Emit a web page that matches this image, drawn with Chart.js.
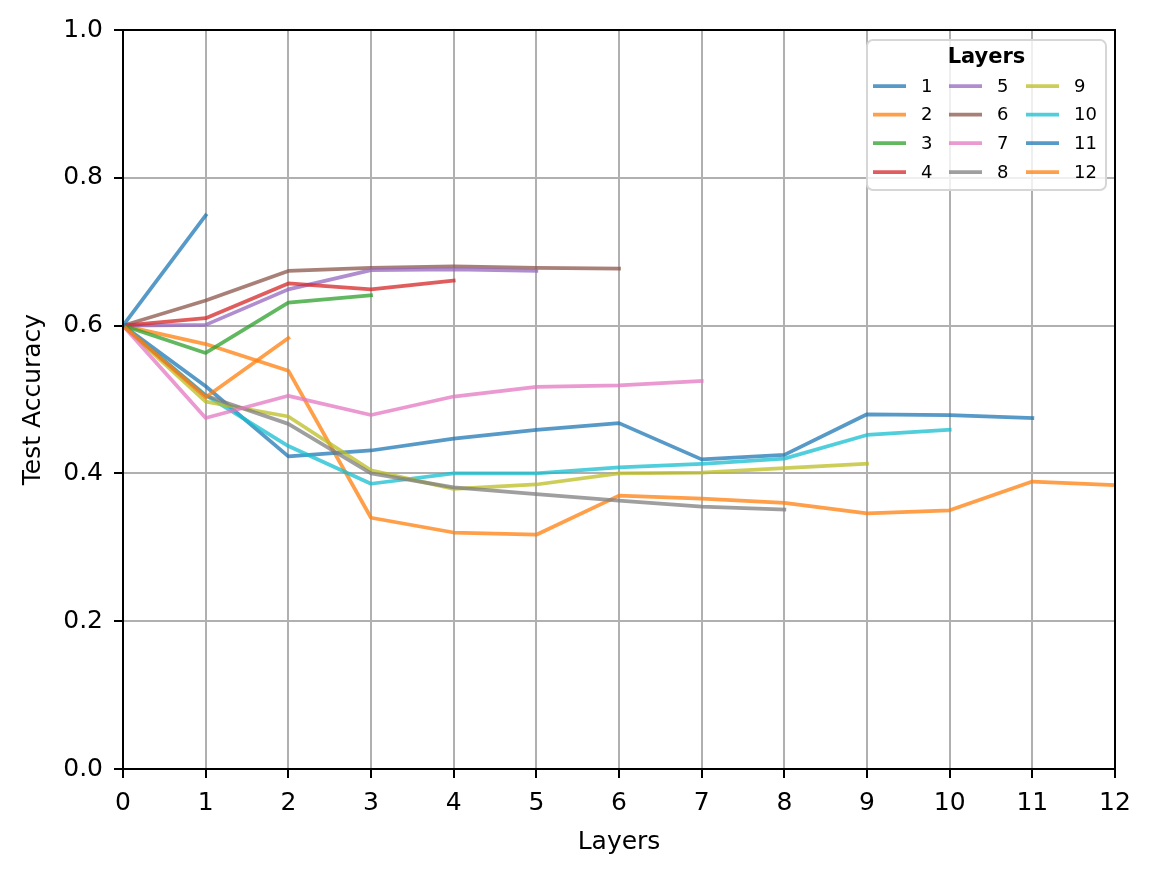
<!DOCTYPE html>
<html>
<head>
<meta charset="utf-8">
<script src="https://cdn.jsdelivr.net/npm/chart.js@4.4.1/dist/chart.umd.min.js"></script>
<style>
  body { margin: 0; background: #fff; }
  canvas { display: block; }
</style>
</head>
<body>
<canvas id="chartLayers" width="1152" height="876"></canvas>
<script>
// test accuracy per number of layers, one run per depth
var layers1 = [0.600, 0.749];
var layers2 = [0.600, 0.503, 0.583];
var layers3 = [0.600, 0.563, 0.631, 0.641];
var layers4 = [0.600, 0.610, 0.657, 0.649, 0.661];
var layers5 = [0.600, 0.601, 0.649, 0.675, 0.676, 0.674];
var layers6 = [0.600, 0.634, 0.674, 0.678, 0.680, 0.678, 0.677];
var layers7 = [0.600, 0.475, 0.505, 0.479, 0.504, 0.517, 0.519, 0.525];
var layers8 = [0.600, 0.505, 0.467, 0.400, 0.381, 0.372, 0.363, 0.355, 0.351];
var layers9 = [0.600, 0.497, 0.477, 0.404, 0.379, 0.385, 0.400, 0.401, 0.407, 0.413];
var layers10 = [0.600, 0.506, 0.437, 0.386, 0.400, 0.400, 0.408, 0.413, 0.420, 0.452, 0.459];
var layers11 = [0.600, 0.518, 0.423, 0.431, 0.447, 0.459, 0.468, 0.419, 0.425, 0.480, 0.479, 0.475];
var layers12 = [0.600, 0.575, 0.539, 0.340, 0.320, 0.317, 0.370, 0.366, 0.360, 0.346, 0.350, 0.389, 0.384];

var seriesLabels = ['1', '2', '3', '4', '5', '6', '7', '8', '9', '10', '11', '12'];
var allSeries = [layers1, layers2, layers3, layers4, layers5, layers6,
                 layers7, layers8, layers9, layers10, layers11, layers12];

// matplotlib tab10 cycle, alpha 0.75
var tab10 = [
  'rgba(31,119,180,0.75)', 'rgba(255,127,14,0.75)', 'rgba(44,160,44,0.75)',
  'rgba(214,39,40,0.75)', 'rgba(148,103,189,0.75)', 'rgba(140,86,75,0.75)',
  'rgba(227,119,194,0.75)', 'rgba(127,127,127,0.75)', 'rgba(188,189,34,0.75)',
  'rgba(23,190,207,0.75)'
];

var FONT = "'DejaVu Sans', sans-serif";

var datasets = [];
for (var i = 0; i < allSeries.length; i++) {
  datasets.push({
    label: seriesLabels[i],
    data: allSeries[i].map(function (v, k) { return { x: k, y: v }; }),
    borderColor: tab10[i % 10],
    backgroundColor: tab10[i % 10],
    borderWidth: 3.75,
    pointRadius: 0,
    pointHoverRadius: 0,
    tension: 0,
    fill: false,
    borderJoinStyle: 'round',
    borderCapStyle: 'square'
  });
}

// spines on top of the lines
var framePlugin = {
  id: 'frame',
  afterDatasetsDraw: function (chart) {
    var a = chart.chartArea, c = chart.ctx;
    c.save();
    c.strokeStyle = '#000';
    c.lineWidth = 2;
    c.strokeRect(a.left, a.top, a.right - a.left, a.bottom - a.top);
    c.restore();
  }
};

// matplotlib style legend: 3 columns, filled column by column
var legendPlugin = {
  id: 'mplLegend',
  afterDraw: function (chart) {
    var c = chart.ctx;
    var box = { x: 867, y: 40, w: 239, h: 150, r: 6 };
    c.save();
    c.beginPath();
    c.roundRect(box.x, box.y, box.w, box.h, box.r);
    c.fillStyle = 'rgba(255,255,255,0.8)';
    c.fill();
    c.strokeStyle = '#d6d6d6';
    c.lineWidth = 2;
    c.stroke();

    c.fillStyle = '#000';
    c.textAlign = 'center';
    c.textBaseline = 'middle';
    c.font = 'bold 21px ' + FONT;
    c.fillText('Layers', 986.5, 58);

    var colX = [873, 949, 1026];
    var rowY = [86, 114.5, 143, 172];
    c.font = '18px ' + FONT;
    c.textAlign = 'left';
    chart.data.datasets.forEach(function (ds, idx) {
      var col = Math.floor(idx / 4), row = idx % 4;
      var x = colX[col], y = rowY[row];
      c.strokeStyle = ds.borderColor;
      c.lineWidth = 3.75;
      c.lineCap = 'butt';
      c.beginPath();
      c.moveTo(x, y);
      c.lineTo(x + 33, y);
      c.stroke();
      c.fillStyle = '#000';
      c.fillText(ds.label, x + 48, y + 1);
    });
    c.restore();
  }
};

var ctx = document.getElementById('chartLayers');

var chartLayers = new Chart(ctx, {
  type: 'line',
  data: { datasets: datasets },
  plugins: [framePlugin, legendPlugin],
  options: {
    responsive: false,
    animation: false,
    devicePixelRatio: 1,
    layout: { padding: { left: 0, right: 37, top: 30, bottom: 0 } },
    plugins: {
      legend: { display: false },
      tooltip: { enabled: false }
    },
    scales: {
      x: {
        type: 'linear',
        min: 0,
        max: 12,
        afterFit: function (scale) { scale.height = 107; },
        ticks: {
          stepSize: 1,
          color: '#000',
          padding: 10,
          font: { family: FONT, size: 25 }
        },
        grid: {
          color: '#b0b0b0',
          lineWidth: 2,
          tickColor: '#000',
          tickLength: 9,
          tickWidth: 2
        },
        border: { display: true, color: '#000', width: 2 },
        title: {
          display: true,
          text: 'Layers',
          color: '#000',
          padding: { top: 0, bottom: 19 },
          font: { family: FONT, size: 25 }
        }
      },
      y: {
        min: 0,
        max: 1,
        afterFit: function (scale) { scale.width = 123; },
        ticks: {
          stepSize: 0.2,
          color: '#000',
          padding: 11,
          font: { family: FONT, size: 25 },
          callback: function (v) { return v.toFixed(1); }
        },
        grid: {
          color: '#b0b0b0',
          lineWidth: 2,
          tickColor: '#000',
          tickLength: 9,
          tickWidth: 2
        },
        border: { display: true, color: '#000', width: 2 },
        title: {
          display: true,
          text: 'Test Accuracy',
          color: '#000',
          padding: { top: 18, bottom: 0 },
          font: { family: FONT, size: 25 }
        }
      }
    }
  }
});
</script>
</body>
</html>
